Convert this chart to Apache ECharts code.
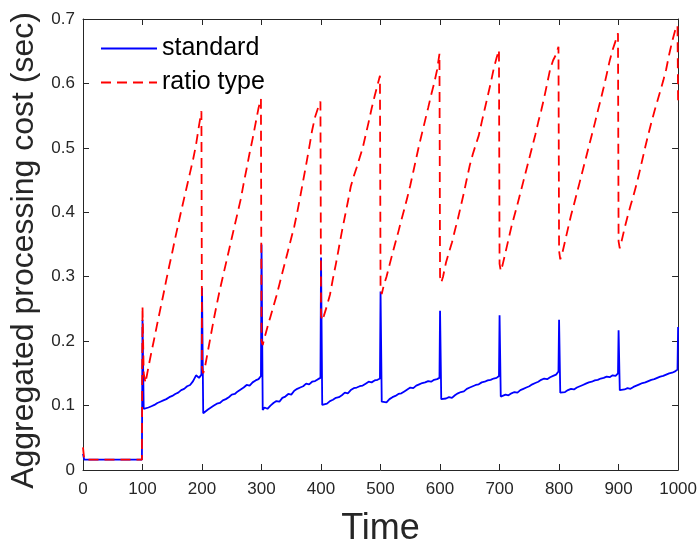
<!DOCTYPE html>
<html>
<head>
<meta charset="utf-8">
<script src="https://cdn.jsdelivr.net/npm/echarts@6/dist/echarts.min.js"></script>
<style>html,body{margin:0;padding:0;background:#fff}#c{width:700px;height:552px}</style>
</head>
<body>
<div id="c"></div>
<script>
const seriesNames = ['standard', 'ratio type'];
const xTitle = 'Time';
const yTitle = 'Aggregated processing cost (sec)';

const time = [
  0,2,5,10,15,20,25,30,35,40,45,50,55,60,65,70,75,80,85,90,95,99,
  100,102,105,110,115,120,125,130,135,140,145,150,155,160,165,170,175,180,185,190,195,199,
  200,202,205,210,215,220,225,230,235,240,245,250,255,260,265,270,275,280,285,290,295,299,
  300,302,305,310,315,320,325,330,335,340,345,350,355,360,365,370,375,380,385,390,395,399,
  400,402,405,410,415,420,425,430,435,440,445,450,455,460,465,470,475,480,485,490,495,499,
  500,502,505,510,515,520,525,530,535,540,545,550,555,560,565,570,575,580,585,590,595,599,
  600,602,605,610,615,620,625,630,635,640,645,650,655,660,665,670,675,680,685,690,695,699,
  700,702,705,710,715,720,725,730,735,740,745,750,755,760,765,770,775,780,785,790,795,799,
  800,802,805,810,815,820,825,830,835,840,845,850,855,860,865,870,875,880,885,890,895,899,
  900,902,905,910,915,920,925,930,935,940,945,950,955,960,965,970,975,980,985,990,995,999,
  1000
];

const standard = [
  0.025,0.016,0.016,0.016,0.016,0.016,0.016,0.016,0.016,0.016,0.016,0.016,0.016,0.016,0.016,0.016,0.016,0.016,0.016,0.016,0.016,0.016,
  0.233,0.095,0.094,0.097,0.099,0.101,0.104,0.106,0.108,0.110,0.113,0.115,0.118,0.120,0.124,0.126,0.130,0.132,0.138,0.147,0.143,0.148,
  0.283,0.088,0.090,0.094,0.097,0.100,0.103,0.104,0.108,0.110,0.113,0.117,0.118,0.122,0.125,0.128,0.132,0.131,0.136,0.139,0.141,0.146,
  0.350,0.093,0.097,0.095,0.100,0.104,0.107,0.106,0.112,0.114,0.118,0.117,0.123,0.126,0.128,0.130,0.134,0.133,0.137,0.138,0.141,0.143,
  0.330,0.101,0.104,0.103,0.107,0.109,0.112,0.113,0.116,0.120,0.119,0.124,0.127,0.128,0.130,0.131,0.134,0.137,0.136,0.139,0.140,0.142,
  0.277,0.106,0.107,0.105,0.110,0.113,0.115,0.118,0.119,0.122,0.125,0.128,0.127,0.131,0.133,0.135,0.136,0.138,0.137,0.140,0.141,0.143,
  0.247,0.110,0.109,0.111,0.113,0.112,0.116,0.119,0.121,0.122,0.126,0.128,0.130,0.132,0.133,0.136,0.137,0.139,0.140,0.142,0.143,0.146,
  0.240,0.114,0.116,0.117,0.116,0.119,0.121,0.120,0.124,0.126,0.128,0.130,0.133,0.135,0.137,0.140,0.142,0.141,0.144,0.146,0.148,0.153,
  0.233,0.120,0.123,0.121,0.124,0.126,0.125,0.128,0.130,0.132,0.134,0.136,0.137,0.139,0.140,0.142,0.143,0.145,0.144,0.147,0.146,0.150,
  0.217,0.124,0.126,0.125,0.127,0.126,0.129,0.131,0.133,0.135,0.136,0.138,0.140,0.141,0.143,0.145,0.146,0.148,0.150,0.151,0.153,0.156,
  0.222
];

const ratioType = [
  0.035,0.017,0.016,0.016,0.016,0.016,0.016,0.016,0.016,0.016,0.016,0.016,0.016,0.016,0.016,0.016,0.016,0.016,0.016,0.016,0.016,0.016,
  0.254,0.150,0.135,0.160,0.183,0.205,0.228,0.250,0.272,0.295,0.317,0.338,0.360,0.381,0.402,0.422,0.442,0.462,0.482,0.505,0.535,0.557,
  0.160,0.150,0.160,0.185,0.210,0.235,0.258,0.280,0.300,0.320,0.340,0.360,0.380,0.400,0.420,0.445,0.468,0.492,0.514,0.538,0.562,0.576,
  0.200,0.194,0.205,0.222,0.238,0.254,0.270,0.288,0.306,0.324,0.342,0.360,0.378,0.400,0.424,0.449,0.474,0.500,0.527,0.548,0.562,0.572,
  0.240,0.232,0.240,0.255,0.272,0.297,0.320,0.345,0.370,0.393,0.416,0.440,0.456,0.470,0.485,0.500,0.520,0.540,0.561,0.580,0.598,0.612,
  0.280,0.273,0.285,0.300,0.318,0.336,0.353,0.370,0.388,0.405,0.423,0.442,0.463,0.484,0.505,0.524,0.543,0.562,0.582,0.600,0.621,0.646,
  0.300,0.291,0.300,0.322,0.338,0.353,0.372,0.390,0.410,0.430,0.452,0.473,0.490,0.505,0.519,0.540,0.560,0.580,0.600,0.622,0.640,0.652,
  0.320,0.309,0.318,0.338,0.358,0.378,0.395,0.412,0.430,0.448,0.466,0.484,0.502,0.520,0.540,0.558,0.578,0.600,0.622,0.636,0.645,0.657,
  0.340,0.327,0.335,0.355,0.375,0.395,0.412,0.430,0.448,0.466,0.484,0.502,0.520,0.538,0.557,0.575,0.594,0.614,0.635,0.652,0.666,0.678,
  0.355,0.344,0.355,0.375,0.393,0.410,0.426,0.443,0.462,0.482,0.502,0.521,0.539,0.556,0.572,0.588,0.604,0.622,0.645,0.665,0.682,0.690,
  0.573
];

const xMin = 0, xMax = 1000, xStep = 100;
const yMin = 0, yMax = 0.7, yStep = 0.1;

const FONT = '"Liberation Sans", Arial, Helvetica, sans-serif';
const AX = '#262626';

function pairs(xs, ys) { return xs.map((x, i) => [x, ys[i]]); }

const boxAxis = (extra) => Object.assign({
  type: 'value',
  axisLine: { show: true, onZero: false, lineStyle: { color: AX, width: 1 } },
  axisTick: { show: true, inside: true, length: 6, lineStyle: { color: AX } },
  splitLine: { show: false }
}, extra);

const chart = echarts.init(document.getElementById('c'), null, { renderer: 'canvas' });
chart.setOption({
  animation: false,
  backgroundColor: '#fff',
  grid: { left: 83, right: 20, top: 19, bottom: 78, containLabel: false },
  legend: {
    orient: 'vertical', left: 100, top: 36, padding: 0,
    itemWidth: 56, itemHeight: 14, itemGap: 9,
    itemStyle: { opacity: 0 },
    textStyle: { fontSize: 25, color: '#000', fontFamily: FONT },
    data: seriesNames
  },
  xAxis: [
    boxAxis({
      position: 'bottom', min: xMin, max: xMax, interval: xStep,
      name: xTitle, nameLocation: 'middle', nameGap: 41,
      nameTextStyle: { fontSize: 36, color: AX, fontFamily: FONT },
      axisLabel: { fontSize: 17, color: AX, margin: 11, fontFamily: FONT, formatter: v => String(v) }
    }),
    boxAxis({ position: 'top', min: xMin, max: xMax, interval: xStep, axisLabel: { show: false } })
  ],
  yAxis: [
    boxAxis({
      position: 'left', min: yMin, max: yMax, interval: yStep,
      name: yTitle, nameLocation: 'middle', nameGap: 38, nameRotate: 90,
      nameTextStyle: { fontSize: 32, color: AX, fontFamily: FONT, padding: [0, 12, 0, 0] },
      axisLabel: { fontSize: 17, color: AX, margin: 8, fontFamily: FONT }
    }),
    boxAxis({ position: 'right', min: yMin, max: yMax, interval: yStep, axisLabel: { show: false } })
  ],
  series: [
    {
      name: seriesNames[0], type: 'line', xAxisIndex: 0, yAxisIndex: 0,
      data: pairs(time, standard), symbol: 'none', showSymbol: false,
      lineStyle: { color: '#0000ff', width: 1.8 }, itemStyle: { color: '#0000ff' }
    },
    {
      name: seriesNames[1], type: 'line', xAxisIndex: 0, yAxisIndex: 0,
      data: pairs(time, ratioType), symbol: 'none', showSymbol: false,
      lineStyle: { color: '#ff0000', width: 1.8, type: [10, 6] }, itemStyle: { color: '#ff0000' }
    }
  ]
});
</script>
</body>
</html>
